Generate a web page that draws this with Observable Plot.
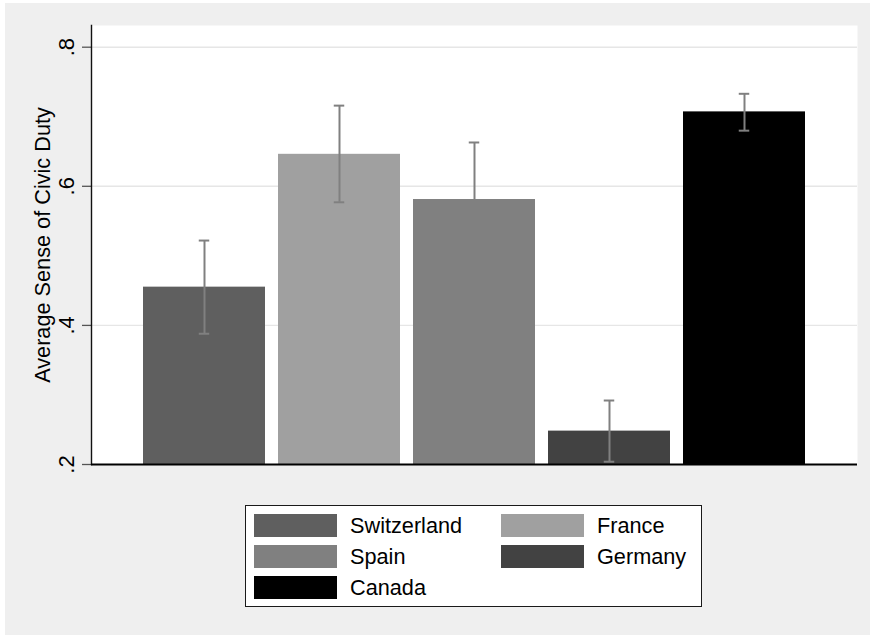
<!DOCTYPE html>
<html>
<head>
<meta charset="utf-8">
<script src="https://cdn.jsdelivr.net/npm/d3@7"></script>
<script src="https://cdn.jsdelivr.net/npm/@observablehq/plot@0.6"></script>
<style>
  html, body { margin: 0; padding: 0; background: #ffffff; }
  body { width: 870px; height: 635px; position: relative; overflow: hidden;
         font-family: "Liberation Sans", Arial, Helvetica, sans-serif; }
  #bg { position: absolute; left: 5px; top: 3px; right: 0; bottom: 0; background: #efefef; }
  #chart { position: absolute; left: 0; top: 0; }
  #legend { position: absolute; left: 245px; top: 505px; width: 455px; height: 100px;
            background: #ffffff; border: 1px solid #1a1a1a; }
  .entry { position: absolute; display: flex; align-items: center; height: 23px; }
  .swatch { width: 83px; height: 23px; }
  .label { margin-left: 13px; font-size: 21.7px; color: #000; line-height: 23px; }
</style>
</head>
<body>
<div id="bg"></div>
<div id="chart"></div>
<div id="legend"></div>
<script>
// Mean sense of civic duty by country, with confidence intervals
const countries = ["Switzerland", "France", "Spain", "Germany", "Canada"];
const means     = [0.455, 0.646, 0.581, 0.248, 0.707];
const lower     = [0.388, 0.577, 0.499, 0.204, 0.680];
const upper     = [0.522, 0.716, 0.663, 0.292, 0.733];
const shades    = ["#5f5f5f", "#a0a0a0", "#808080", "#424242", "#000000"];
const yTicks    = [0.2, 0.4, 0.6, 0.8];
const yTickLabels = [".2", ".4", ".6", ".8"];
const yTitle = "Average Sense of Civic Duty";

const rows = countries.map((c, i) => ({country: c, mean: means[i], lo: lower[i], hi: upper[i]}));

const W = 870, H = 490;
const margin = {left: 91, right: 13, top: 25, bottom: 26};
const padInner = 0.0926, padOuter = 0.383;
const ciColor = "#808080";

// band width, used to size the error-bar caps
const bw = d3.scaleBand(countries, [margin.left, W - margin.right])
  .paddingInner(padInner).paddingOuter(padOuter).bandwidth();
const capInset = (bw - 11) / 2;

const chart = Plot.plot({
  width: W,
  height: H,
  marginLeft: margin.left,
  marginRight: margin.right,
  marginTop: margin.top,
  marginBottom: margin.bottom,
  style: {background: "transparent", fontFamily: "'Liberation Sans', Arial, Helvetica, sans-serif"},
  x: {domain: countries, paddingInner: padInner, paddingOuter: padOuter, axis: null},
  y: {domain: [0.2, 0.8312], axis: null},
  color: {domain: countries, range: shades},
  marks: [
    Plot.frame({fill: "#ffffff", stroke: null}),
    Plot.ruleY(yTicks.slice(1), {stroke: "#e6e6e6", strokeWidth: 1.4}),
    Plot.barY(rows, {x: "country", y1: 0.2, y2: "mean", fill: "country"}),
    Plot.ruleX(rows, {x: "country", y1: "lo", y2: "hi", stroke: ciColor, strokeWidth: 2}),
    Plot.tickY(rows, {x: "country", y: "hi", stroke: ciColor, strokeWidth: 2, insetLeft: capInset, insetRight: capInset}),
    Plot.tickY(rows, {x: "country", y: "lo", stroke: ciColor, strokeWidth: 2, insetLeft: capInset, insetRight: capInset}),
    Plot.axisY({ticks: yTicks, tickSize: 9, tickFormat: () => "", stroke: "#555", strokeWidth: 1.3, label: null}),
    Plot.frame({anchor: "left", stroke: "#111", strokeWidth: 1.4}),
    Plot.ruleY([0.2], {stroke: "#000", strokeWidth: 2}),
    Plot.text(yTicks, {
      y: d => d, text: (d, i) => yTickLabels[i], frameAnchor: "left", dx: -25,
      rotate: -90, textAnchor: "middle", lineAnchor: "middle", fontSize: 22, fill: "#000"
    }),
    Plot.text([yTitle], {
      text: d => d, frameAnchor: "left", dx: -48, rotate: -90,
      textAnchor: "middle", lineAnchor: "middle", fontSize: 21.7, fill: "#000"
    })
  ]
});
document.getElementById("chart").append(chart);

// Legend: two columns, filled row by row
const colorScale = chart.scale("color");
const legend = document.getElementById("legend");
countries.forEach((c, i) => {
  const col = i % 2, row = Math.floor(i / 2);
  const entry = document.createElement("div");
  entry.className = "entry";
  entry.style.left = (8 + col * 247) + "px";
  entry.style.top = (8 + row * 31) + "px";
  const sw = document.createElement("div");
  sw.className = "swatch";
  sw.style.background = colorScale.apply(c);
  const lab = document.createElement("span");
  lab.className = "label";
  lab.textContent = c;
  entry.append(sw, lab);
  legend.append(entry);
});
</script>
</body>
</html>
